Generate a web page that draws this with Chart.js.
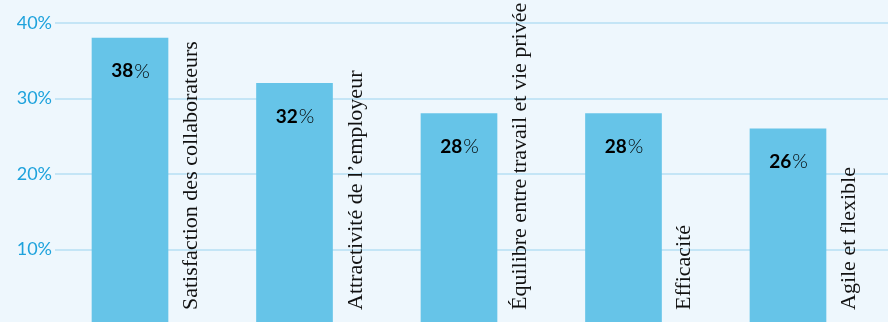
<!DOCTYPE html>
<html>
<head>
<meta charset="utf-8">
<script src="https://cdn.jsdelivr.net/npm/chart.js@4"></script>
<style>
  html, body { margin: 0; padding: 0; background: #eef7fd; }
  #chart { display: block; }
</style>
</head>
<body>
<canvas id="chart" width="888" height="322"></canvas>
<script>
let categories = [
    "Satisfaction des collaborateurs",
    "Attractivité de l’employeur",
    "Équilibre entre travail et vie privée",
    "Efficacité",
    "Agile et flexible"
];
let values = [38, 32, 28, 28, 26];
let yTicks = [10, 20, 30, 40];

let barColor = "#66c4e8";
let tickColor = "#1ea2dc";
let gridColor = "#c4e5f6";

// labels inside the bars + rotated category names beside them
let barLabels = {
    id: "barLabels",
    afterDatasetsDraw(chart) {
        let ctx = chart.ctx;
        let meta = chart.getDatasetMeta(0);
        ctx.save();
        meta.data.forEach((bar, i) => {
            let num = String(values[i]);
            ctx.font = "bold 19px Lato";
            let w1 = ctx.measureText(num).width;
            ctx.font = "300 20px Lato";
            let w2 = ctx.measureText("%").width;
            let x0 = bar.x - (w1 + w2) / 2;
            let y0 = bar.y + 33;
            ctx.fillStyle = "#000";
            ctx.textBaseline = "middle";
            ctx.textAlign = "left";
            ctx.font = "bold 19px Lato";
            ctx.fillText(num, x0, y0);
            ctx.font = "300 20px Lato";
            ctx.fillText("%", x0 + w1 + 1, y0);

            ctx.save();
            ctx.translate(bar.x + 67, 310);
            ctx.rotate(-Math.PI / 2);
            ctx.font = "22px 'Liberation Serif'";
            ctx.fillStyle = "#111";
            ctx.textBaseline = "alphabetic";
            ctx.fillText(categories[i], 0, 0);
            ctx.restore();
        });
        ctx.restore();
    }
};

new Chart("chart", {
    type: "bar",
    data: {
        datasets: [{
            data: values.map((v, i) => ({ x: i, y: v })),
            backgroundColor: barColor,
            borderWidth: 0,
            barThickness: 76
        }]
    },
    options: {
        responsive: false,
        animation: false,
        layout: { padding: { top: 23, right: 0, bottom: 0, left: 0 } },
        plugins: { legend: { display: false }, tooltip: { enabled: false } },
        scales: {
            x: {
                type: "linear",
                offset: false,
                min: -0.456,
                max: 4.608,
                display: false
            },
            y: {
                // the axis runs slightly below the bottom edge of the picture
                min: 0.4,
                max: 40,
                afterBuildTicks: s => { s.ticks = yTicks.map(v => ({ value: v })); },
                afterFit: s => { s.width = 55; s.paddingTop = 0; s.paddingBottom = 0; },
                border: { display: false },
                grid: { color: gridColor, lineWidth: 2, drawTicks: false },
                ticks: {
                    color: tickColor,
                    padding: 3,
                    font: { family: "Lato", size: 18 },
                    callback: v => v + "%"
                }
            }
        }
    },
    plugins: [barLabels]
});
</script>
</body>
</html>
